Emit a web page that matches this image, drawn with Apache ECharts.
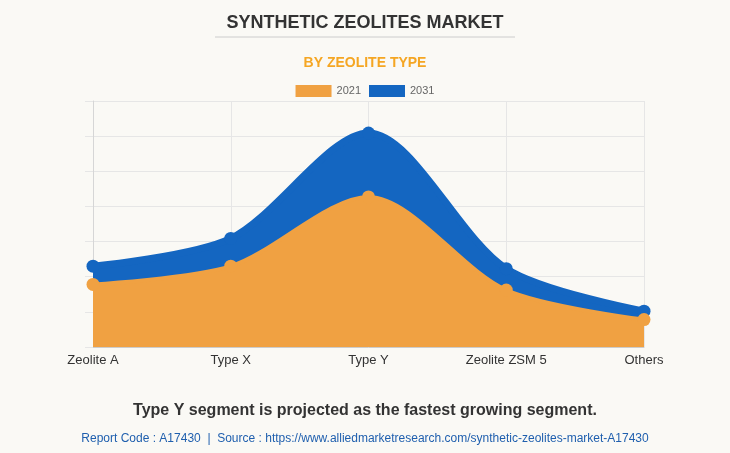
<!DOCTYPE html>
<html>
<head>
<meta charset="utf-8">
<script src="https://cdn.jsdelivr.net/npm/echarts@6/dist/echarts.min.js"></script>
<style>
html,body{margin:0;padding:0;background:#faf9f5;}
#c{width:730px;height:453px;}
</style>
</head>
<body>
<div id="c"></div>
<script>
const categories = ['Zeolite A', 'Type X', 'Type Y', 'Zeolite ZSM 5', 'Others'];
const values2021 = [1.78, 2.30, 4.27, 1.62, 0.78];
const values2031 = [2.30, 3.09, 6.09, 2.23, 1.02];
const seriesNames = ['2021', '2031'];

const chart = echarts.init(document.getElementById('c'), null, {renderer: 'canvas'});
chart.setOption({
  backgroundColor: '#faf9f5',
  animation: false,
  title: [
    {text: 'SYNTHETIC ZEOLITES MARKET', left: 'center', top: 9,
     textStyle: {fontFamily: 'Arial, Liberation Sans, sans-serif', fontSize: 18, fontWeight: 'bold', color: '#333'}},
    {text: 'BY ZEOLITE TYPE', left: 'center', top: 51,
     textStyle: {fontFamily: 'Arial, Liberation Sans, sans-serif', fontSize: 14, fontWeight: 'bold', color: '#f5a623'}},
    {text: 'Type Y segment is projected as the fastest growing segment.', left: 'center', top: 398,
     textStyle: {fontFamily: 'Arial, Liberation Sans, sans-serif', fontSize: 16, fontWeight: 'bold', color: '#333'}},
    {text: 'Report Code : A17430  |  Source : https://www.alliedmarketresearch.com/synthetic-zeolites-market-A17430', left: 'center', top: 428,
     textStyle: {fontFamily: 'Arial, Liberation Sans, sans-serif', fontSize: 12, fontWeight: 'normal', color: '#1f5fae'}}
  ],
  graphic: [
    {type: 'line', shape: {x1: 215, y1: 37, x2: 515, y2: 37}, style: {stroke: '#cccccc', lineWidth: 1}}
  ],
  legend: {
    data: seriesNames, top: 80, left: 'center', icon: 'rect', itemWidth: 36, itemHeight: 12, itemGap: 8,
    textStyle: {fontFamily: 'Arial, Liberation Sans, sans-serif', fontSize: 11, color: '#666'}
  },
  grid: {left: 93, right: 86, top: 101, bottom: 106},
  xAxis: {
    type: 'category', data: categories, boundaryGap: false,
    axisLine: {lineStyle: {color: '#cccccc'}},
    axisTick: {show: false},
    axisLabel: {fontFamily: 'Arial, Liberation Sans, sans-serif', fontSize: 13, color: '#333', margin: 7},
    splitLine: {show: true, lineStyle: {color: '#e6e6e6'}}
  },
  yAxis: {
    type: 'value', min: 0, max: 7, interval: 1,
    axisLine: {show: true, lineStyle: {color: '#d6d6d6'}},
    axisTick: {show: true, length: 8, lineStyle: {color: '#e6e6e6'}},
    axisLabel: {show: false},
    splitLine: {lineStyle: {color: '#e6e6e6'}}
  },
  series: [
    {name: '2031', type: 'line', data: values2031, smooth: 0.3, z: 2,
     symbol: 'circle', symbolSize: 13,
     itemStyle: {color: '#1466c1'},
     lineStyle: {width: 7, color: '#1466c1'},
     areaStyle: {color: '#1466c1', opacity: 1}},
    {name: '2021', type: 'line', data: values2021, smooth: 0.3, z: 3,
     symbol: 'circle', symbolSize: 13,
     itemStyle: {color: '#f0a142'},
     lineStyle: {width: 4, color: '#f0a142'},
     areaStyle: {color: '#f0a142', opacity: 1}}
  ]
});
</script>
</body>
</html>
